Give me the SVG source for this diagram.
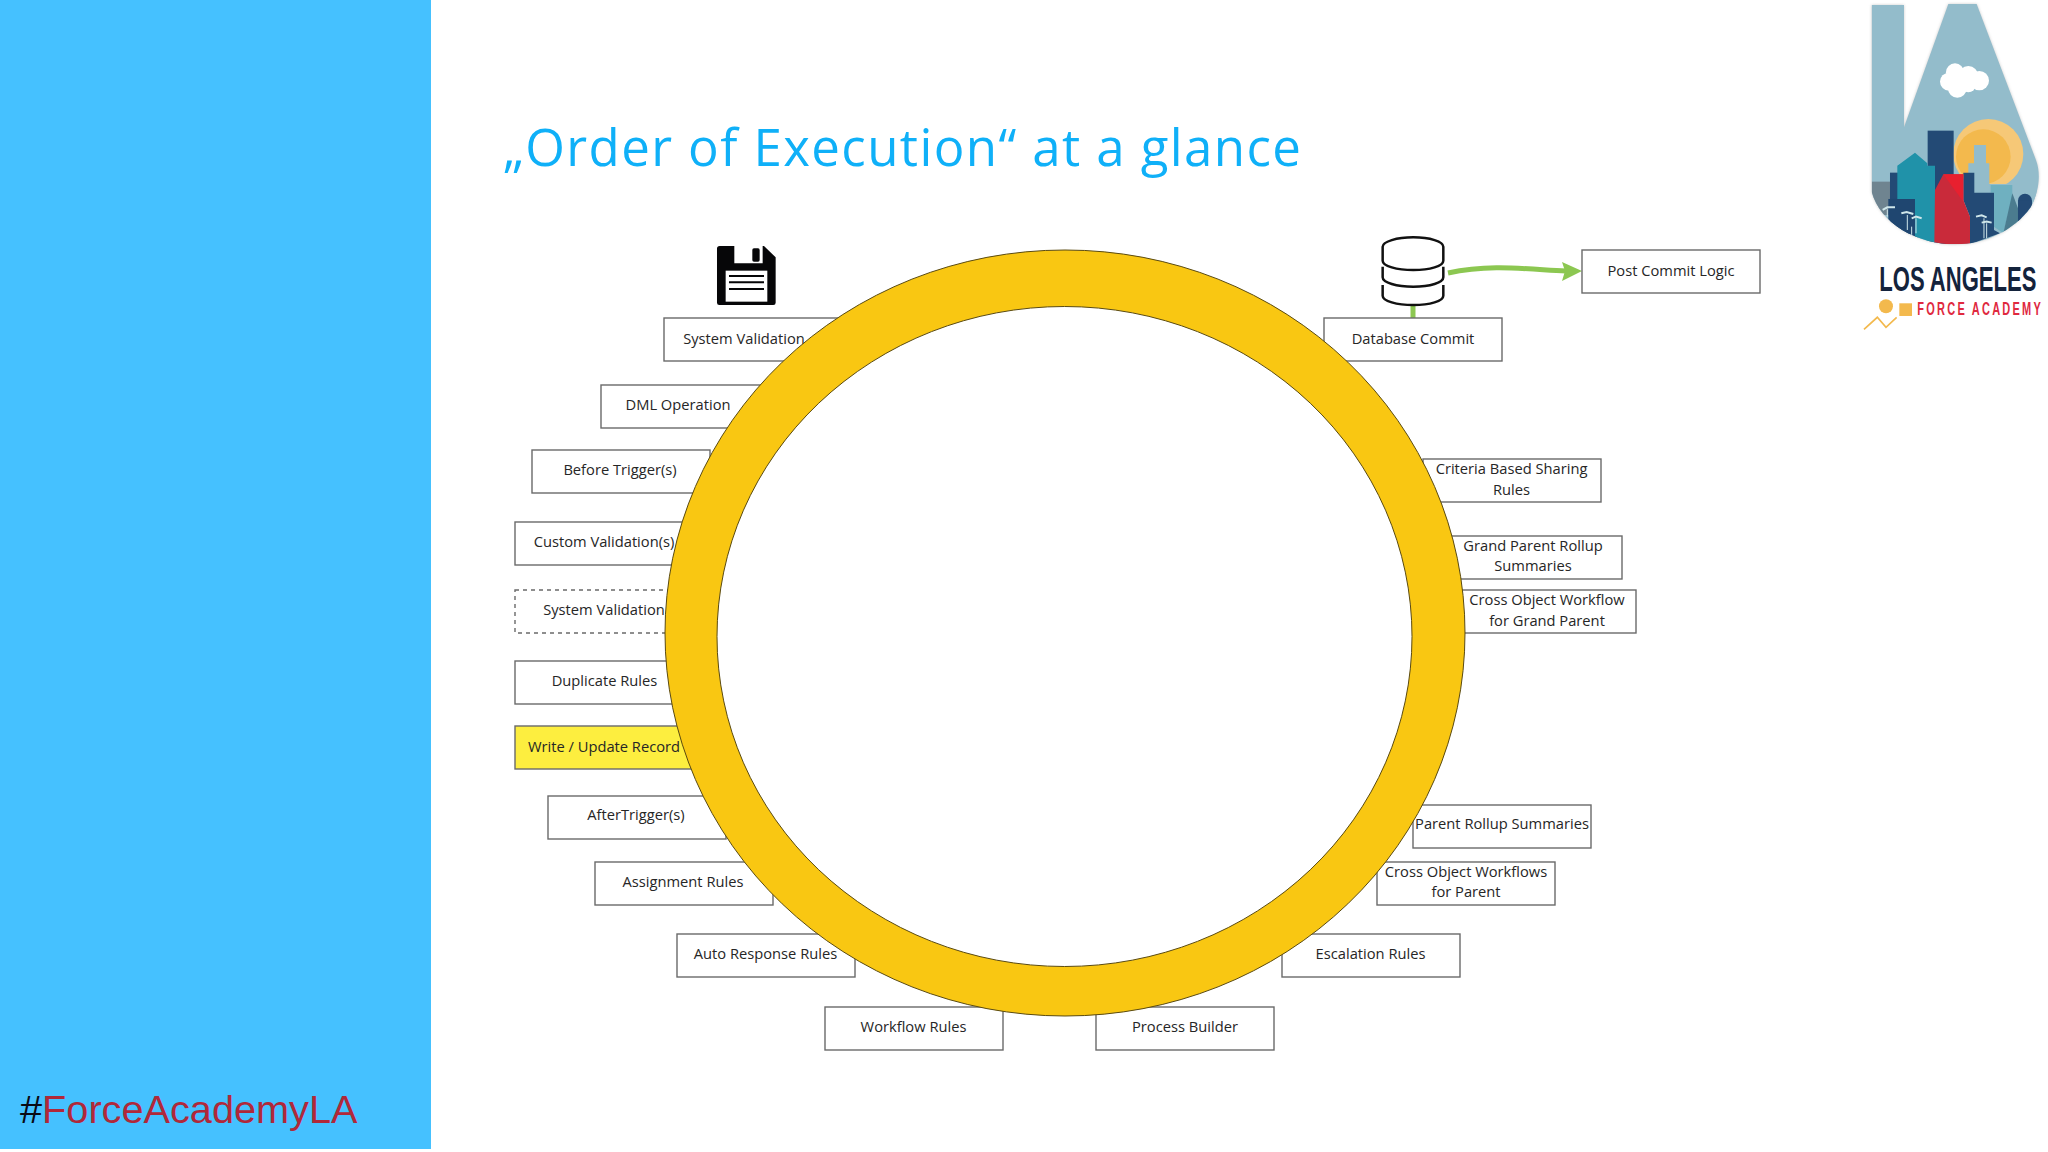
<svg xmlns="http://www.w3.org/2000/svg" width="2048" height="1152" viewBox="0 0 2048 1152">
<style>
.b{fill:#fff;stroke:#6a6a6a;stroke-width:1.4}
.d{stroke-dasharray:4 4}
.y{fill:#fdee3f}
.t{font-family:"Open Sans","Noto Sans",sans-serif;font-size:14.7px;fill:#262626;text-anchor:middle}
.g{fill:none;stroke:#8cc751;stroke-width:5}
.k{fill:none;stroke:#111;stroke-width:2.6}
</style>
<defs>
<clipPath id="lac"><path id="lap" d="M215,15H312V382L445,12H530L708,480C725,525 715,580 692,622C640,695 550,733 470,733C350,733 240,670 215,575Z"/></clipPath>
<filter id="sh" x="-10%" y="-10%" width="120%" height="120%"><feGaussianBlur stdDeviation="4"/></filter>
</defs>
<rect width="2048" height="1152" fill="#fff"/>
<rect id="panel" x="0" y="0" width="431" height="1149" fill="#45c1ff"/>
<text id="title" x="503" y="165.500" font-family="'Open Sans','Noto Sans',sans-serif" font-size="51" fill="#0fb0f8" textLength="798" lengthAdjust="spacing">„Order of Execution“ at a glance</text>
<text id="hashtag" x="20" y="1123" font-family="'Liberation Sans',Arial,sans-serif" font-size="39.700"><tspan fill="#0a0a14">#</tspan><tspan fill="#b0283a">ForceAcademyLA</tspan></text>

<g id="connectors">
<path class="g" d="M1413,305V318"/>
<path class="g" d="M1448,273C1490,264 1525,269 1566,271"/>
<path d="M1562,262L1582,271L1562,281L1565,271Z" fill="#8cc751"/>
</g>

<g id="floppy" transform="translate(640,220) scale(.3333)">
<path fill="#060608" d="M231,86Q231,78 239,78H283V130H368V78H372L407,112V248Q407,255 400,255H238Q231,255 231,248Z"/>
<rect x="337" y="85" width="22" height="40" rx="5" fill="#060608"/>
<rect x="257" y="152" width="125" height="93" fill="#fff"/>
<path d="M267,168H372M267,187H372M267,207H372" stroke="#060608" stroke-width="6" fill="none"/>
</g>
<g id="database" transform="translate(1300,220) scale(.3333)">
<path class="k" style="stroke-width:7.500" d="M248,80C248,65 290,52 340,52C390,52 430,65 430,80V122C430,138 390,150 340,150C290,150 248,138 248,122Z"/>
<path class="k" style="stroke-width:7.500" d="M248,140V172C248,188 290,200 340,200C390,200 430,188 430,172V140"/>
<path class="k" style="stroke-width:7.500" d="M248,195V227C248,243 290,255 340,255C390,255 430,243 430,227V195"/>
</g>

<g id="n-system-validation"><rect class="b" x="664" y="318" width="178" height="43"/><text class="t" x="744" y="344">System Validation</text></g>
<g id="n-dml-operation"><rect class="b" x="601" y="385" width="178" height="43"/><text class="t" x="678" y="410.300">DML Operation</text></g>
<g id="n-before-triggers"><rect class="b" x="532" y="450" width="178" height="43"/><text class="t" x="620" y="475.300">Before Trigger(s)</text></g>
<g id="n-custom-validations"><rect class="b" x="515" y="522" width="178" height="43"/><text class="t" x="604" y="547.300">Custom Validation(s)</text></g>
<g id="n-system-validation-2"><rect class="b d" x="515" y="590" width="178" height="43"/><text class="t" x="604" y="615.300">System Validation</text></g>
<g id="n-duplicate-rules"><rect class="b" x="515" y="661" width="178" height="43"/><text class="t" x="604.500" y="685.500">Duplicate Rules</text></g>
<g id="n-write-update"><rect class="b y" x="515" y="726" width="178" height="43"/><text class="t" x="604" y="751.500">Write / Update Record</text></g>
<g id="n-after-triggers"><rect class="b" x="548" y="796" width="178" height="43"/><text class="t" x="636" y="820.300">AfterTrigger(s)</text></g>
<g id="n-assignment-rules"><rect class="b" x="595" y="862" width="178" height="43"/><text class="t" x="683" y="887">Assignment Rules</text></g>
<g id="n-auto-response"><rect class="b" x="677" y="934" width="178" height="43"/><text class="t" x="765.500" y="959">Auto Response Rules</text></g>
<g id="n-workflow-rules"><rect class="b" x="825" y="1007" width="178" height="43"/><text class="t" x="913.500" y="1031.500">Workflow Rules</text></g>
<g id="n-process-builder"><rect class="b" x="1096" y="1007" width="178" height="43"/><text class="t" x="1185" y="1031.500">Process Builder</text></g>
<g id="n-escalation-rules"><rect class="b" x="1282" y="934" width="178" height="43"/><text class="t" x="1370.500" y="959">Escalation Rules</text></g>
<g id="n-cross-parent"><rect class="b" x="1377" y="862" width="178" height="43"/><text class="t" x="1466" y="877.300">Cross Object Workflows</text><text class="t" x="1466" y="897.300">for Parent</text></g>
<g id="n-parent-rollup"><rect class="b" x="1413" y="805" width="178" height="43"/><text class="t" x="1502" y="829.300">Parent Rollup Summaries</text></g>
<g id="n-cross-grand"><rect class="b" x="1458" y="590" width="178" height="43"/><text class="t" x="1547" y="605.300">Cross Object Workflow</text><text class="t" x="1547" y="625.500">for Grand Parent</text></g>
<g id="n-grand-rollup"><rect class="b" x="1444" y="536" width="178" height="43"/><text class="t" x="1533" y="551.300">Grand Parent Rollup</text><text class="t" x="1533" y="571.300">Summaries</text></g>
<g id="n-criteria"><rect class="b" x="1423" y="459" width="178" height="43"/><text class="t" x="1511.500" y="474.300">Criteria Based Sharing</text><text class="t" x="1511.500" y="494.500">Rules</text></g>
<g id="n-database-commit"><rect class="b" x="1324" y="318" width="178" height="43"/><text class="t" x="1413" y="344">Database Commit</text></g>
<g id="n-post-commit"><rect class="b" x="1582" y="250" width="178" height="43"/><text class="t" x="1671" y="275.500">Post Commit Logic</text></g>

<g id="ring">
<ellipse cx="1065" cy="633" rx="400" ry="383" fill="#f9c712" stroke="#5a4a10" stroke-width="1"/>
<ellipse cx="1064.500" cy="636.500" rx="347.500" ry="330" fill="#fff" stroke="#5a4a10" stroke-width="1"/>
</g>

<g id="logo">
<g transform="translate(1800,0) scale(.3333)">
<use href="#lap" fill="#999" opacity=".5" filter="url(#sh)"/>
<g clip-path="url(#lac)">
<rect x="200" y="0" width="540" height="740" fill="#93bccb"/>
<rect x="215" y="545" width="60" height="100" fill="#6f8490"/>
<circle cx="565" cy="462" r="105" fill="#f6c877"/>
<circle cx="550" cy="470" r="82" fill="#f3b94d"/>
<rect x="450" y="552" width="260" height="120" fill="#93bccb"/>
<path fill="#93bccb" d="M522,435H558V490H568V580H505V490H522Z"/>
<rect x="383" y="392" width="78" height="340" fill="#234a75"/>
<rect x="270" y="518" width="60" height="210" fill="#234a75"/>
<rect x="265" y="597" width="90" height="140" fill="#1f4670"/>
<path fill="#2092a9" d="M292,497L345,458L382,490V497H405V733H345V597H292Z"/>
<path fill="#6fb0c0" d="M572,555H637V590L610,700L582,680V578H572Z"/>
<path fill="#234a75" d="M490,518H523V578H582V690L600,700L510,733V650L490,600Z"/>
<path fill="#4b7c8f" d="M637,580L675,680L610,700Z"/>
<circle cx="675" cy="602" r="21" fill="#234a75"/>
<rect x="654" y="602" width="42" height="70" fill="#234a75"/>
<path fill="#c92a3a" d="M405,570L430,523H490V600L510,650V733H403Z"/>
<path fill="#e8202f" d="M430,523H490V605Z"/>
<path d="M262,628V650M322,645V690M348,655V700M335,680V710M552,655V715M560,670V715" stroke="#cfe6ea" stroke-width="3" fill="none"/>
<path d="M248,630L262,622L285,622M304,640L320,636L340,642M335,655L348,650L365,655M528,650L545,646L560,652M545,668L560,665L575,668" stroke="#cfe6ea" stroke-width="6" fill="none"/>
</g>
<g fill="#fff"><circle cx="447" cy="245" r="27"/><circle cx="465" cy="217" r="27"/><circle cx="505" cy="228" r="30"/><circle cx="538" cy="242" r="29"/><circle cx="472" cy="265" r="28"/><circle cx="505" cy="255" r="22"/></g>
<circle cx="258" cy="919" r="21" fill="#f3b94d"/>
<rect x="298" y="910" width="38" height="38" fill="#f3b94d"/>
<path d="M192,988L232,952L258,982L290,952" fill="none" stroke="#f3b94d" stroke-width="5"/>
</g>
<text transform="matrix(.635 0 0 1 1879.300 290.700)" font-family="'Liberation Sans',sans-serif" font-weight="700" font-size="34.700" fill="#14233c">LOS ANGELES</text>
<text transform="matrix(.6 0 0 1 1917.300 315)" font-family="'Liberation Sans',sans-serif" font-weight="700" font-size="18.300" letter-spacing="3.750" fill="#e0293f">FORCE ACADEMY</text>
</g>
</svg>
